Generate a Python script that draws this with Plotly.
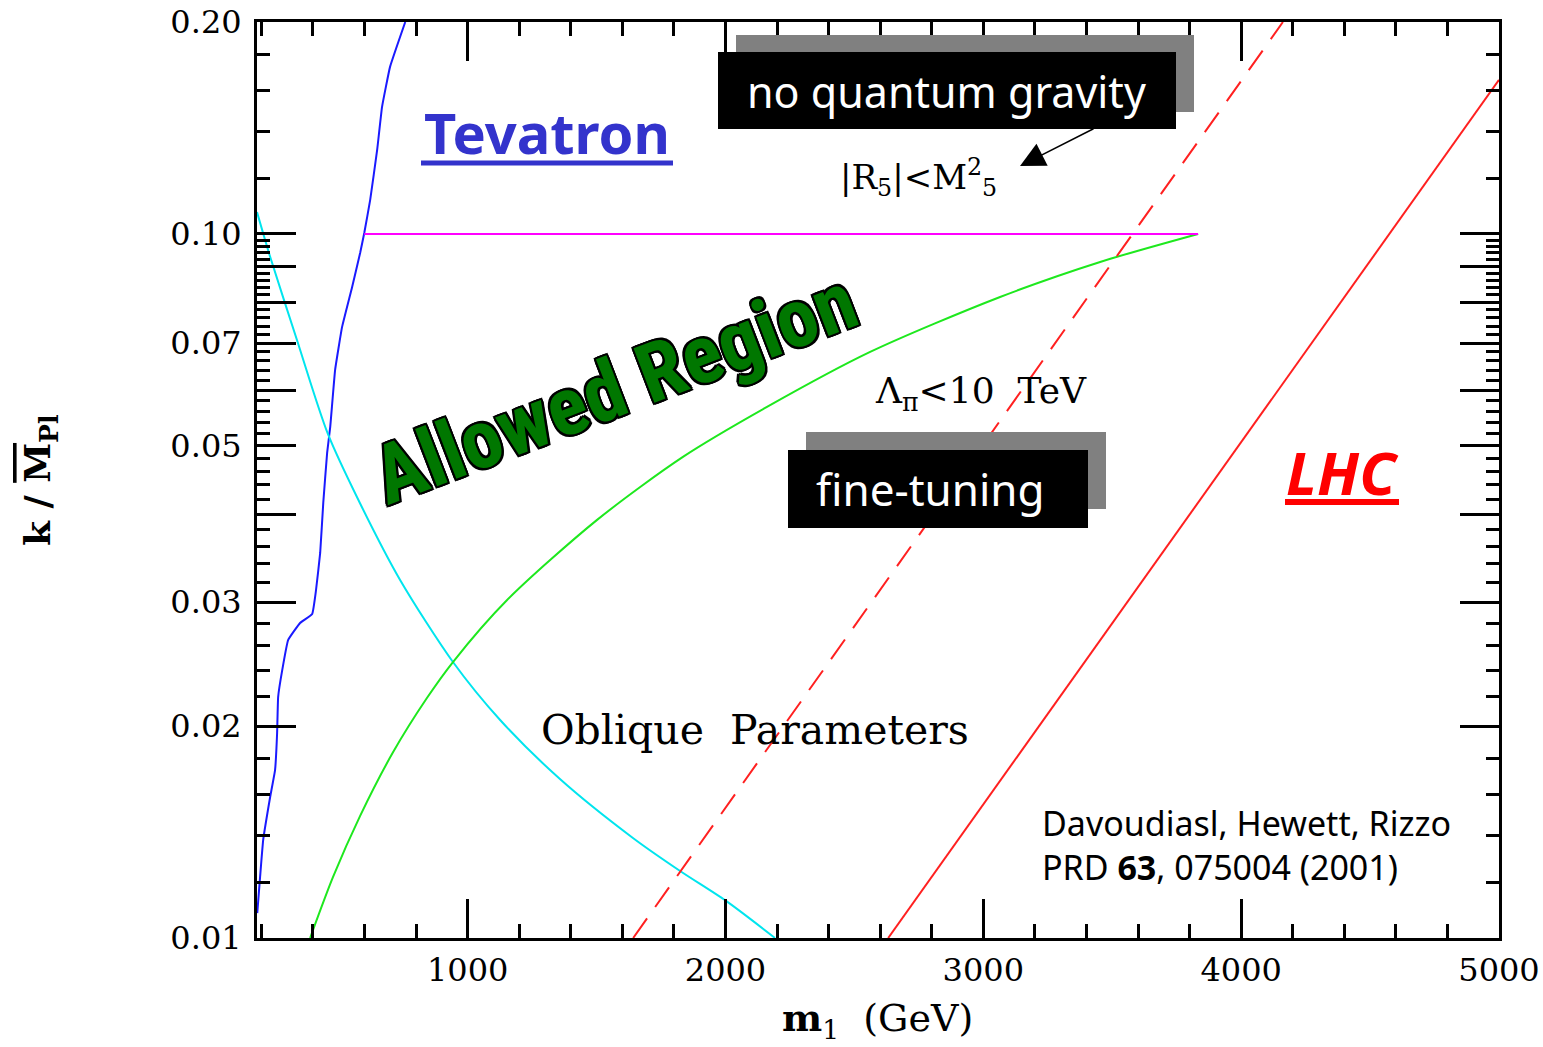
import plotly.graph_objects as go

# ---------------- data ----------------
tev_m = [184, 195, 207, 234, 253, 261, 265, 281, 304, 350, 397, 412, 428, 440,
         455, 467, 486, 513, 552, 583, 599, 622, 649, 668, 699, 758]
tev_k = [0.01085, 0.01221, 0.01378, 0.01586, 0.01732, 0.01955, 0.02199, 0.02403,
         0.02651, 0.02802, 0.02886, 0.03122, 0.03523, 0.04149, 0.04886, 0.05320,
         0.06411, 0.07378, 0.08409, 0.09397, 0.1003, 0.1118, 0.1316, 0.1515,
         0.1727, 0.2]

obl_m = [183, 233, 338, 458, 582, 738, 943, 1126, 1358, 1641, 1824, 2002, 2192]
obl_k = [0.1074, 0.09305, 0.07070, 0.05199, 0.04148, 0.03225, 0.02466, 0.02040,
         0.01682, 0.01387, 0.01245, 0.01129, 0.01]

lam_m = [389, 478, 583, 711, 842, 943, 1153, 1502, 1835, 2161, 2561, 3065, 3453, 3833]
lam_k = [0.01, 0.01221, 0.01491, 0.01837, 0.02192, 0.02466, 0.03020, 0.03925,
         0.04823, 0.05679, 0.06798, 0.08137, 0.09124, 0.1]

r5_m = [599, 3833]
r5_k = [0.1, 0.1]

lhc_dash_m = [1642, 4162]
lhc_dash_k = [0.01, 0.2]

lhc_m = [2631, 5000]
lhc_k = [0.01, 0.1655]

x_range = [183, 5000]
y_range_log = [-2, -0.69897]   # 0.01 .. 0.20

x_major = [1000, 2000, 3000, 4000, 5000]
y_labeled = [0.01, 0.02, 0.03, 0.05, 0.07, 0.10, 0.20]
y_labels = ["0.01", "0.02", "0.03", "0.05", "0.07", "0.10", "0.20"]
y_long_unlabeled = [0.04, 0.06, 0.08, 0.09]
y_minor = [round(0.01 + 0.002 * i, 4) for i in range(46) if (i % 5) != 0] + [0.12, 0.14, 0.16, 0.18]

SERIF = "DejaVu Serif"
COMIC = "Comic Sans MS, Noto Sans, sans-serif"

# plot-area pixel frame, used only to place decorations
L, R, T, B = 257, 1499, 22, 938


def px(x):
    return (x - L) / (R - L)


def py(y):
    return (B - y) / (B - T)


fig = go.Figure()
fig.add_trace(go.Scatter(x=tev_m, y=tev_k, mode="lines", line=dict(color="#1a1aff", width=2, shape="spline", smoothing=0.3)))
fig.add_trace(go.Scatter(x=obl_m, y=obl_k, mode="lines", line=dict(color="#00e5ee", width=2, shape="spline", smoothing=0.8)))
fig.add_trace(go.Scatter(x=lam_m, y=lam_k, mode="lines", line=dict(color="#1ee81e", width=2, shape="spline", smoothing=0.8)))
fig.add_trace(go.Scatter(x=r5_m, y=r5_k, mode="lines", line=dict(color="#ff00ff", width=2)))
fig.add_trace(go.Scatter(x=lhc_dash_m, y=lhc_dash_k, mode="lines", line=dict(color="#ff2020", width=2, dash="24px,14px")))
fig.add_trace(go.Scatter(x=lhc_m, y=lhc_k, mode="lines", line=dict(color="#ff2020", width=2)))
# invisible trace that carries the second (tick-only) y axis
fig.add_trace(go.Scatter(x=r5_m, y=r5_k, yaxis="y2", mode="lines", line=dict(width=0),
                         hoverinfo="skip", showlegend=False, opacity=0))

shapes = []
# grey shadows and black boxes
for (x0, y0, x1, y1, c) in [(736, 35, 1194, 112, "#808080"), (718, 52, 1176, 129, "#000000"),
                            (806, 432, 1106, 509, "#808080"), (788, 450, 1088, 528, "#000000")]:
    shapes.append(dict(type="rect", xref="paper", yref="paper", x0=px(x0), x1=px(x1),
                       y0=py(y1), y1=py(y0), fillcolor=c, line=dict(width=0), layer="above"))
# underlines
shapes.append(dict(type="line", xref="paper", yref="paper", x0=px(421), x1=px(673), y0=py(163), y1=py(163),
                   line=dict(color="#3333cc", width=5)))
shapes.append(dict(type="line", xref="paper", yref="paper", x0=px(1285), x1=px(1399), y0=py(502), y1=py(502),
                   line=dict(color="#ff0000", width=6)))

ann = []


def A(text, x, y, size, color="black", family=SERIF, **kw):
    d = dict(text=text, x=px(x), y=py(y), xref="paper", yref="paper", showarrow=False,
             font=dict(family=family, size=size, color=color), xanchor="center", yanchor="middle")
    d.update(kw)
    ann.append(d)


A("<b>Tevatron</b>", 547, 132, 56, color="#3333cc", family=COMIC)
A("<b><i>LHC</i></b>", 1342, 472, 60, color="#ff0000", family=COMIC)
A("no quantum gravity", 946, 91, 43, color="white", family=COMIC)
A("fine-tuning", 930, 489, 44, color="white", family=COMIC)
A("|R<sub>5</sub>|&lt;M<sup>2</sup><sub>5</sub>", 918, 178, 34)
A("Λ<sub>π</sub>&lt;10  TeV", 981, 394, 36)
A("Oblique  Parameters", 755, 730, 41)
A("Davoudiasl, Hewett, Rizzo<br>PRD <b>63</b>, 075004 (2001)", 1040, 845, 34, family=COMIC,
  xanchor="left", align="left")
A("<b>m</b><sub>1</sub>  (GeV)", 877, 1020, 38)
A("<b>k / <span style='text-decoration:overline'>M</span><sub>Pl</sub></b>", 40, 480, 36, textangle=-90)
ann.append(dict(text="<b>Allowed Region</b>", x=px(615), y=py(388), xref="paper", yref="paper",
                showarrow=False, textangle=-21, xanchor="center", yanchor="middle",
                font=dict(family="Liberation Sans Narrow, Roboto Condensed, DejaVu Sans Condensed, Lato, sans-serif",
                          size=82, color="#007700",
                          shadow="-2px -2px 0 #000, 2px -2px 0 #000, -2px 2px 0 #000, 2px 2px 0 #000, 0 2px 0 #000, 0 -2px 0 #000, 2px 0 0 #000, -2px 0 0 #000")))
# arrow
ann.append(dict(text="", x=px(1020), y=py(166), xref="paper", yref="paper", showarrow=True,
                ax=75, ay=-38, arrowhead=2, arrowsize=3.3, arrowwidth=1.5, arrowcolor="black"))

fig.update_layout(
    width=1543, height=1047,
    margin=dict(l=L, r=1543 - R, t=T, b=1047 - B),
    paper_bgcolor="white", plot_bgcolor="white",
    showlegend=False,
    shapes=shapes, annotations=ann,
    xaxis=dict(range=x_range, showgrid=False, zeroline=False, automargin=False,
               showline=True, linewidth=3, linecolor="black", mirror="ticks",
               ticks="inside", ticklen=39, tickwidth=2.5, tickcolor="black",
               tickmode="array", tickvals=x_major, ticktext=[str(v) for v in x_major],
               tickfont=dict(family=SERIF, size=32, color="black"), ticklabelstandoff=2,
               minor=dict(ticks="inside", ticklen=14, tickwidth=2.5, tickcolor="black",
                          tick0=0, dtick=200, showgrid=False)),
    yaxis=dict(type="log", range=y_range_log, showgrid=False, zeroline=False, automargin=False,
               showline=True, linewidth=3, linecolor="black", mirror="ticks",
               ticks="inside", ticklen=39, tickwidth=2.5, tickcolor="black",
               tickmode="array", tickvals=y_labeled, ticktext=y_labels,
               tickfont=dict(family=SERIF, size=32, color="black"), ticklabelstandoff=6,
               minor=dict(ticks="inside", ticklen=13, tickwidth=2.5, tickcolor="black",
                          tickmode="array", tickvals=y_minor, showgrid=False)),
    yaxis2=dict(type="log", range=y_range_log, overlaying="y", side="left", anchor="x",
                showgrid=False, zeroline=False, automargin=False, showline=False,
                mirror="allticks", ticks="inside", ticklen=39, tickwidth=2.5, tickcolor="black",
                tickmode="array", tickvals=y_long_unlabeled, showticklabels=False),
)

fig.write_html("out.html")
